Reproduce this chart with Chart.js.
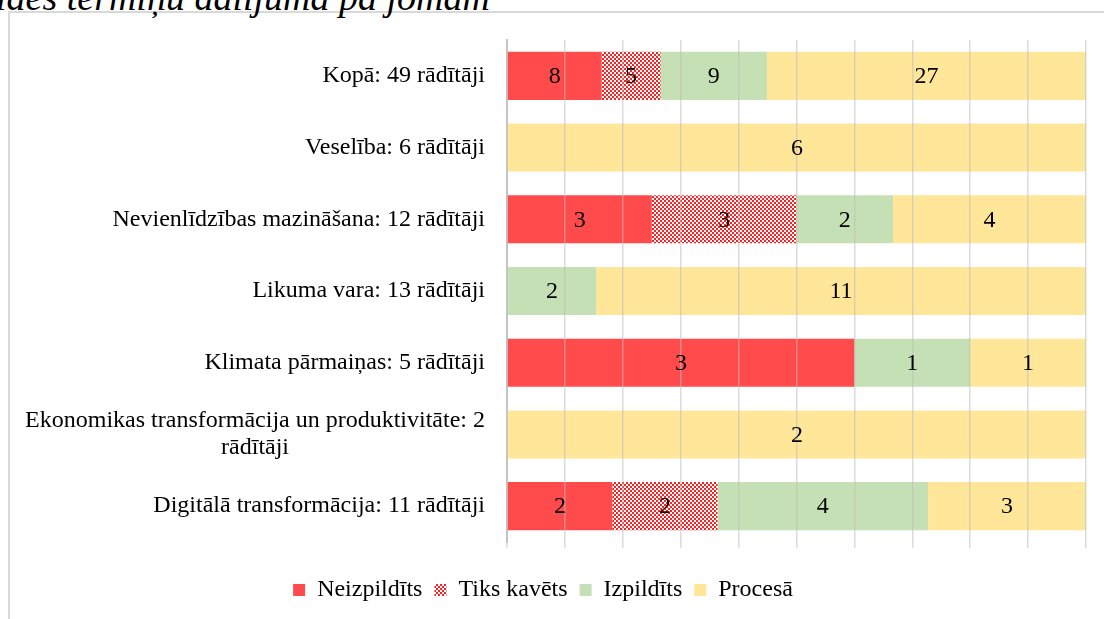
<!DOCTYPE html>
<html>
<head>
<meta charset="utf-8">
<script src="https://cdn.jsdelivr.net/npm/chart.js@4.4.1/dist/chart.umd.min.js"></script>
<style>
    html, body { margin: 0; padding: 0; background: #fff; }
    body { width: 1104px; height: 619px; position: relative; overflow: hidden; }
    #frame {
        position: absolute; left: 8px; top: 11px; width: 1200px; height: 700px;
        border-left: 2px solid #d9d9d9; border-top: 2px solid #d9d9d9;
    }
    #title {
        position: absolute; right: 614px; top: -25px; white-space: nowrap;
        font-family: 'Liberation Serif', serif; font-style: italic; font-size: 38px; color: #000;
    }
    #wrap { position: absolute; left: 0; top: 0; width: 1104px; height: 619px; }
</style>
</head>
<body>
<div id="frame"></div>
<div id="title">Rādītāju izpildes termiņu dalījumā pa jomām</div>
<div id="wrap"><canvas id="statusChart"></canvas></div>
<script>
// Chart data
const categories = [
    'Kopā: 49 rādītāji',
    'Veselība: 6 rādītāji',
    'Nevienlīdzības mazināšana: 12 rādītāji',
    'Likuma vara: 13 rādītāji',
    'Klimata pārmaiņas: 5 rādītāji',
    ['Ekonomikas transformācija un produktivitāte: 2', 'rādītāji'],
    'Digitālā transformācija: 11 rādītāji'
];
const seriesNames = ['Neizpildīts', 'Tiks kavēts', 'Izpildīts', 'Procesā'];
const neizpildits = [8, 0, 3, 0, 3, 0, 2];
const tiksKavets  = [5, 0, 3, 0, 0, 0, 2];
const izpildits   = [9, 0, 2, 2, 1, 0, 4];
const procesa     = [27, 6, 4, 11, 1, 2, 3];
const xTicks = [0, 10, 20, 30, 40, 50, 60, 70, 80, 90, 100];

const FONT = "'Liberation Serif', 'Times New Roman', serif";
Chart.defaults.font.family = FONT;

function makeCheckerPattern() {
    const c = document.createElement('canvas');
    c.width = 4; c.height = 4;
    const g = c.getContext('2d');
    g.fillStyle = '#ffffff';
    g.fillRect(0, 0, 4, 4);
    g.fillStyle = '#ff2020';
    g.fillRect(0, 0, 2, 2);
    g.fillRect(2, 2, 2, 2);
    return g.createPattern(c, 'repeat');
}

const counts = [neizpildits, tiksKavets, izpildits, procesa];
const totals = categories.map((_, i) => counts.reduce((s, arr) => s + arr[i], 0));
const toPct = arr => arr.map((v, i) => v / totals[i] * 100);
const colors = ['#ff4b4b', makeCheckerPattern(), '#c5e0b4', '#ffe699'];

// draws the raw counts in the middle of each segment
const segmentLabels = {
    id: 'segmentLabels',
    afterDraw(chart) {
        const ctx = chart.ctx;
        ctx.save();
        ctx.font = '24px ' + FONT;
        ctx.fillStyle = '#000';
        ctx.textAlign = 'center';
        ctx.textBaseline = 'middle';
        chart.data.datasets.forEach((ds, di) => {
            chart.getDatasetMeta(di).data.forEach((bar, i) => {
                const v = ds.counts[i];
                if (!v) return;
                ctx.fillText(String(v), (bar.x + bar.base) / 2, bar.y + 1);
            });
        });
        ctx.restore();
    }
};

// category labels: block right-aligned, lines centred inside the block
const categoryLabels = {
    id: 'categoryLabels',
    afterDraw(chart) {
        const ctx = chart.ctx;
        const yScale = chart.scales.y;
        const right = 485;
        const lineH = 27;
        ctx.save();
        ctx.font = '24px ' + FONT;
        ctx.fillStyle = '#000';
        ctx.textAlign = 'center';
        ctx.textBaseline = 'middle';
        categories.forEach((label, i) => {
            const lines = Array.isArray(label) ? label : [label];
            const w = Math.max(...lines.map(l => ctx.measureText(l).width));
            const cx = right - w / 2;
            const y0 = yScale.getPixelForValue(i) - (lines.length - 1) * lineH / 2;
            lines.forEach((l, k) => ctx.fillText(l, cx, y0 + k * lineH));
        });
        ctx.restore();
    }
};

function initializeChart() {
    const ctx = document.getElementById('statusChart');
    new Chart(ctx, {
        type: 'bar',
        data: {
            labels: categories,
            datasets: seriesNames.map((name, k) => ({
                label: name,
                data: toPct(counts[k]),
                counts: counts[k],
                backgroundColor: colors[k],
                borderWidth: 0,
                barPercentage: 0.67,
                categoryPercentage: 1
            }))
        },
        options: {
            indexAxis: 'y',
            responsive: true,
            maintainAspectRatio: false,
            animation: false,
            layout: { padding: { left: 0, right: 18, top: 40, bottom: 7 } },
            plugins: {
                legend: {
                    position: 'bottom',
                    labels: {
                        color: '#000',
                        font: { family: FONT, size: 24 },
                        boxWidth: 12,
                        boxHeight: 12,
                        padding: 12
                    }
                },
                tooltip: { enabled: false }
            },
            scales: {
                x: {
                    stacked: true,
                    min: 0,
                    max: 100,
                    afterBuildTicks(scale) {
                        scale.ticks = xTicks.map(v => ({ value: v }));
                    },
                    afterFit(scale) { scale.height = 24; },
                    border: { display: false },
                    grid: {
                        color: 'rgba(190, 190, 190, 0.55)',
                        lineWidth: 1.5,
                        tickLength: 6,
                        z: 1
                    },
                    ticks: { display: false }
                },
                y: {
                    stacked: true,
                    afterFit(scale) { scale.width = 507; },
                    border: { color: '#c8c8c8', width: 2 },
                    grid: { display: false },
                    ticks: { display: false }
                }
            }
        },
        plugins: [segmentLabels, categoryLabels]
    });
}

document.addEventListener('DOMContentLoaded', initializeChart);
</script>
</body>
</html>
